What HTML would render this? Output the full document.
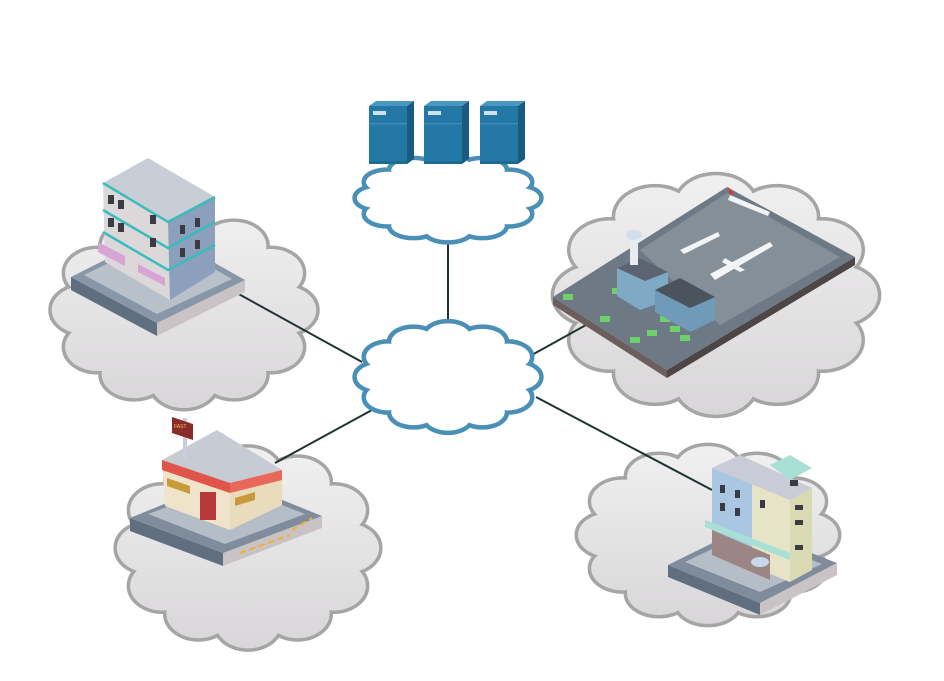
<!DOCTYPE html>
<html><head><meta charset="utf-8"><style>html,body{margin:0;padding:0;background:#fff}svg{display:block}</style></head>
<body>
<svg width="944" height="681" viewBox="0 0 944 681" xmlns="http://www.w3.org/2000/svg" xmlns:xlink="http://www.w3.org/1999/xlink">
<defs>
<linearGradient id="gg" gradientUnits="userSpaceOnUse" x1="0" y1="-115" x2="0" y2="115"><stop offset="0" stop-color="#f1f0f1"/><stop offset="1" stop-color="#d8d6d8"/></linearGradient>
<g id="cl">
<circle vector-effect="non-scaling-stroke" cx="86" cy="0" r="28"/>
<circle vector-effect="non-scaling-stroke" cx="74.5" cy="43" r="28"/>
<circle vector-effect="non-scaling-stroke" cx="43" cy="74.5" r="28"/>
<circle vector-effect="non-scaling-stroke" cx="0" cy="86" r="28"/>
<circle vector-effect="non-scaling-stroke" cx="-43" cy="74.5" r="28"/>
<circle vector-effect="non-scaling-stroke" cx="-74.5" cy="43" r="28"/>
<circle vector-effect="non-scaling-stroke" cx="-86" cy="0" r="28"/>
<circle vector-effect="non-scaling-stroke" cx="-74.5" cy="-43" r="28"/>
<circle vector-effect="non-scaling-stroke" cx="-43" cy="-74.5" r="28"/>
<circle vector-effect="non-scaling-stroke" cx="0" cy="-86" r="28"/>
<circle vector-effect="non-scaling-stroke" cx="43" cy="-74.5" r="28"/>
<circle vector-effect="non-scaling-stroke" cx="74.5" cy="-43" r="28"/>
<circle vector-effect="non-scaling-stroke" cx="0" cy="0" r="88"/>
</g>
</defs>
<g fill="#a6a5a6" stroke="#a6a5a6" stroke-width="7">
<use xlink:href="#cl" href="#cl" transform="translate(184,310) scale(1.16,0.86)"/>
<use xlink:href="#cl" href="#cl" transform="translate(248,548) scale(1.15,0.88)"/>
<use xlink:href="#cl" href="#cl" transform="translate(716,295) scale(1.42,1.05)"/>
<use xlink:href="#cl" href="#cl" transform="translate(708,535) scale(1.14,0.78)"/>
</g>
<g fill="url(#gg)" stroke="none">
<use xlink:href="#cl" href="#cl" transform="translate(184,310) scale(1.16,0.86)"/>
<use xlink:href="#cl" href="#cl" transform="translate(248,548) scale(1.15,0.88)"/>
<use xlink:href="#cl" href="#cl" transform="translate(716,295) scale(1.42,1.05)"/>
<use xlink:href="#cl" href="#cl" transform="translate(708,535) scale(1.14,0.78)"/>
</g>
<g stroke="#1f3432" stroke-width="2">
<line x1="448" y1="238" x2="448" y2="324"/>
<line x1="235" y1="292" x2="362" y2="362"/>
<line x1="275" y1="463" x2="372" y2="410"/>
<line x1="530" y1="356" x2="586" y2="325"/>
<line x1="536" y1="397" x2="712" y2="490"/>
</g>
<g fill="#4a8fb6" stroke="#4a8fb6" stroke-width="9">
<use xlink:href="#cl" href="#cl" transform="translate(448,198) scale(0.8,0.37)"/>
<use xlink:href="#cl" href="#cl" transform="translate(448,377) scale(0.8,0.47)"/>
</g>
<g fill="#fff" stroke="none">
<use xlink:href="#cl" href="#cl" transform="translate(448,198) scale(0.8,0.37)"/>
<use xlink:href="#cl" href="#cl" transform="translate(448,377) scale(0.8,0.47)"/>
</g>
<!-- servers -->
<g>
<g transform="translate(369,101)"><polygon points="0,5 7,0 45,0 38,5" fill="#4a97c2"/><polygon points="38,5 45,0 45,58 38,63" fill="#1a5b80"/><rect x="0" y="5" width="38" height="58" fill="#2378a6"/><rect x="0" y="22" width="38" height="1.5" fill="#3b8dba"/><rect x="4" y="10" width="13" height="4" fill="#cfe3ef"/><rect x="0" y="60" width="38" height="3" fill="#1d6a94"/></g>
<g transform="translate(424,101)"><polygon points="0,5 7,0 45,0 38,5" fill="#4a97c2"/><polygon points="38,5 45,0 45,58 38,63" fill="#1a5b80"/><rect x="0" y="5" width="38" height="58" fill="#2378a6"/><rect x="0" y="22" width="38" height="1.5" fill="#3b8dba"/><rect x="4" y="10" width="13" height="4" fill="#cfe3ef"/><rect x="0" y="60" width="38" height="3" fill="#1d6a94"/></g>
<g transform="translate(480,101)"><polygon points="0,5 7,0 45,0 38,5" fill="#4a97c2"/><polygon points="38,5 45,0 45,58 38,63" fill="#1a5b80"/><rect x="0" y="5" width="38" height="58" fill="#2378a6"/><rect x="0" y="22" width="38" height="1.5" fill="#3b8dba"/><rect x="4" y="10" width="13" height="4" fill="#cfe3ef"/><rect x="0" y="60" width="38" height="3" fill="#1d6a94"/></g>
</g>
<!-- TL building -->
<g>
<polygon points="71,277 157,323 157,336 71,290" fill="#5f6f80"/>
<polygon points="157,323 245,280 245,292 157,336" fill="#c9c3c6"/>
<polygon points="71,277 160,232 245,280 157,323" fill="#8797a8"/>
<polygon points="84,275 160,238 232,279 157,314" fill="#b8c0ca"/>
<polygon points="103,183 168,222 170,300 105,262" fill="#dcd8da"/>
<polygon points="168,222 215,197 215,272 170,300" fill="#8c9fbd"/>
<polygon points="103,183 148,158 215,197 168,222" fill="#c9ced6"/>
<g stroke="#3bbcbc" stroke-width="2.5" fill="none"><polyline points="103,210 168,248 215,222"/><polyline points="103,232 168,270 215,245"/><polyline points="103,183 168,222 215,197"/></g>
<polygon points="98,242 125,256 125,266 98,252" fill="#d7a4d6"/><polygon points="138,264 165,278 165,286 138,272" fill="#d7a4d6"/>
<g fill="#3b3b44"><rect x="108" y="195" width="6" height="9"/><rect x="118" y="200" width="6" height="9"/><rect x="108" y="218" width="6" height="9"/><rect x="118" y="223" width="6" height="9"/><rect x="150" y="215" width="6" height="9"/><rect x="150" y="238" width="6" height="9"/><rect x="180" y="225" width="5" height="9"/><rect x="195" y="218" width="5" height="9"/><rect x="180" y="248" width="5" height="9"/><rect x="195" y="240" width="5" height="9"/></g>
</g>
<!-- BL fast food -->
<g>
<polygon points="130,518 223,553 223,566 130,531" fill="#5f6f80"/>
<polygon points="223,553 322,516 322,528 223,566" fill="#c9c3c6"/>
<polygon points="130,518 228,478 322,516 223,553" fill="#7e8c9c"/>
<polygon points="148,514 228,484 305,514 225,544" fill="#b5bdc7"/>
<polygon points="162,460 230,483 230,530 165,506" fill="#efe4c9"/>
<polygon points="230,483 282,470 282,505 230,530" fill="#e9dcbd"/>
<polygon points="162,460 217,430 282,470 230,483" fill="#c7ccd4"/>
<polygon points="162,460 230,483 230,493 162,470" fill="#e0554a"/>
<polygon points="230,483 282,470 282,480 230,493" fill="#e9685c"/>
<polygon points="167,478 190,486 190,494 167,486" fill="#c99a3c"/><polygon points="235,498 255,492 255,500 235,506" fill="#c99a3c"/>
<rect x="200" y="492" width="16" height="28" fill="#b83a38"/>
<rect x="183" y="418" width="4" height="42" fill="#ccd"/>
<polygon points="172,417 193,424 193,440 172,433" fill="#8a2d2a"/>
<text x="174" y="428" font-family="Liberation Sans,sans-serif" font-size="5" fill="#f4c060">FAST</text>
<g stroke="#f0b030" stroke-width="2" stroke-dasharray="6 4"><line x1="240" y1="553" x2="290" y2="535"/><line x1="292" y1="530" x2="312" y2="518"/></g>
</g>
<!-- airport -->
<g>
<polygon points="553,297 667,370 667,378 553,305" fill="#6d5e5e"/>
<polygon points="667,370 855,257 855,265 667,378" fill="#4e4545"/>
<polygon points="553,297 727,187 855,257 667,370" fill="#6d7a85"/>
<polygon points="640,250 727,193 840,257 720,325" fill="#848f98"/>
<g fill="#6fcf6a"><rect x="563" y="294" width="10" height="6"/><rect x="600" y="316" width="10" height="6"/><rect x="647" y="330" width="10" height="6"/><rect x="660" y="316" width="10" height="6"/><rect x="670" y="326" width="10" height="6"/><rect x="680" y="335" width="10" height="6"/><rect x="630" y="337" width="10" height="6"/><rect x="612" y="288" width="10" height="6"/></g>
<polygon points="617,268 640,258 668,272 668,300 640,310 617,296" fill="#7fa9c4"/>
<polygon points="617,268 640,258 668,272 645,281" fill="#5b6470"/>
<polygon points="655,290 680,278 715,297 715,320 690,332 655,312" fill="#6f9ab8"/>
<polygon points="655,290 680,278 715,297 690,308" fill="#4b535d"/>
<rect x="630" y="235" width="8" height="30" fill="#e8ecef"/><ellipse cx="634" cy="235" rx="8" ry="5" fill="#cfe0ea"/>
<g fill="#f2f4f6"><polygon points="710,274 770,242 773,246 715,280"/><polygon points="725,258 745,270 740,272 722,262"/><polygon points="680,250 718,232 720,236 684,254"/><polygon points="730,195 770,212 768,216 728,200"/></g>
<polygon points="728,187 734,193 730,195" fill="#d33"/>
</g>
<!-- BR building -->
<g>
<polygon points="668,565 760,603 760,615 668,577" fill="#5f6f80"/>
<polygon points="760,603 837,563 837,575 760,615" fill="#c9c3c6"/>
<polygon points="668,565 745,527 837,563 760,603" fill="#7e8c9c"/>
<polygon points="685,562 745,533 822,564 760,592" fill="#b5bdc7"/>
<polygon points="712,468 790,500 790,582 712,552" fill="#a9c6e2"/>
<polygon points="752,484 790,500 790,582 752,566" fill="#e6e3c6"/>
<polygon points="790,500 812,488 812,570 790,582" fill="#d9d9b4"/>
<polygon points="712,468 740,455 812,488 790,500" fill="#c9ccd6"/>
<polygon points="770,465 790,455 812,468 790,480" fill="#a9e0d6"/>
<polygon points="705,520 790,553 790,560 705,527" fill="#a9e0d6"/>
<polygon points="712,530 770,555 770,580 712,555" fill="#9c8585"/>
<ellipse cx="760" cy="562" rx="9" ry="5" fill="#c8d8ea"/>
<g fill="#3b3b44"><rect x="720" y="485" width="5" height="8"/><rect x="735" y="490" width="5" height="8"/><rect x="720" y="503" width="5" height="8"/><rect x="735" y="508" width="5" height="8"/><rect x="760" y="500" width="5" height="8"/><rect x="795" y="505" width="8" height="5"/><rect x="795" y="520" width="8" height="5"/><rect x="795" y="545" width="8" height="5"/><rect x="790" y="480" width="8" height="6"/></g>
</g>
</svg>
</body></html>
